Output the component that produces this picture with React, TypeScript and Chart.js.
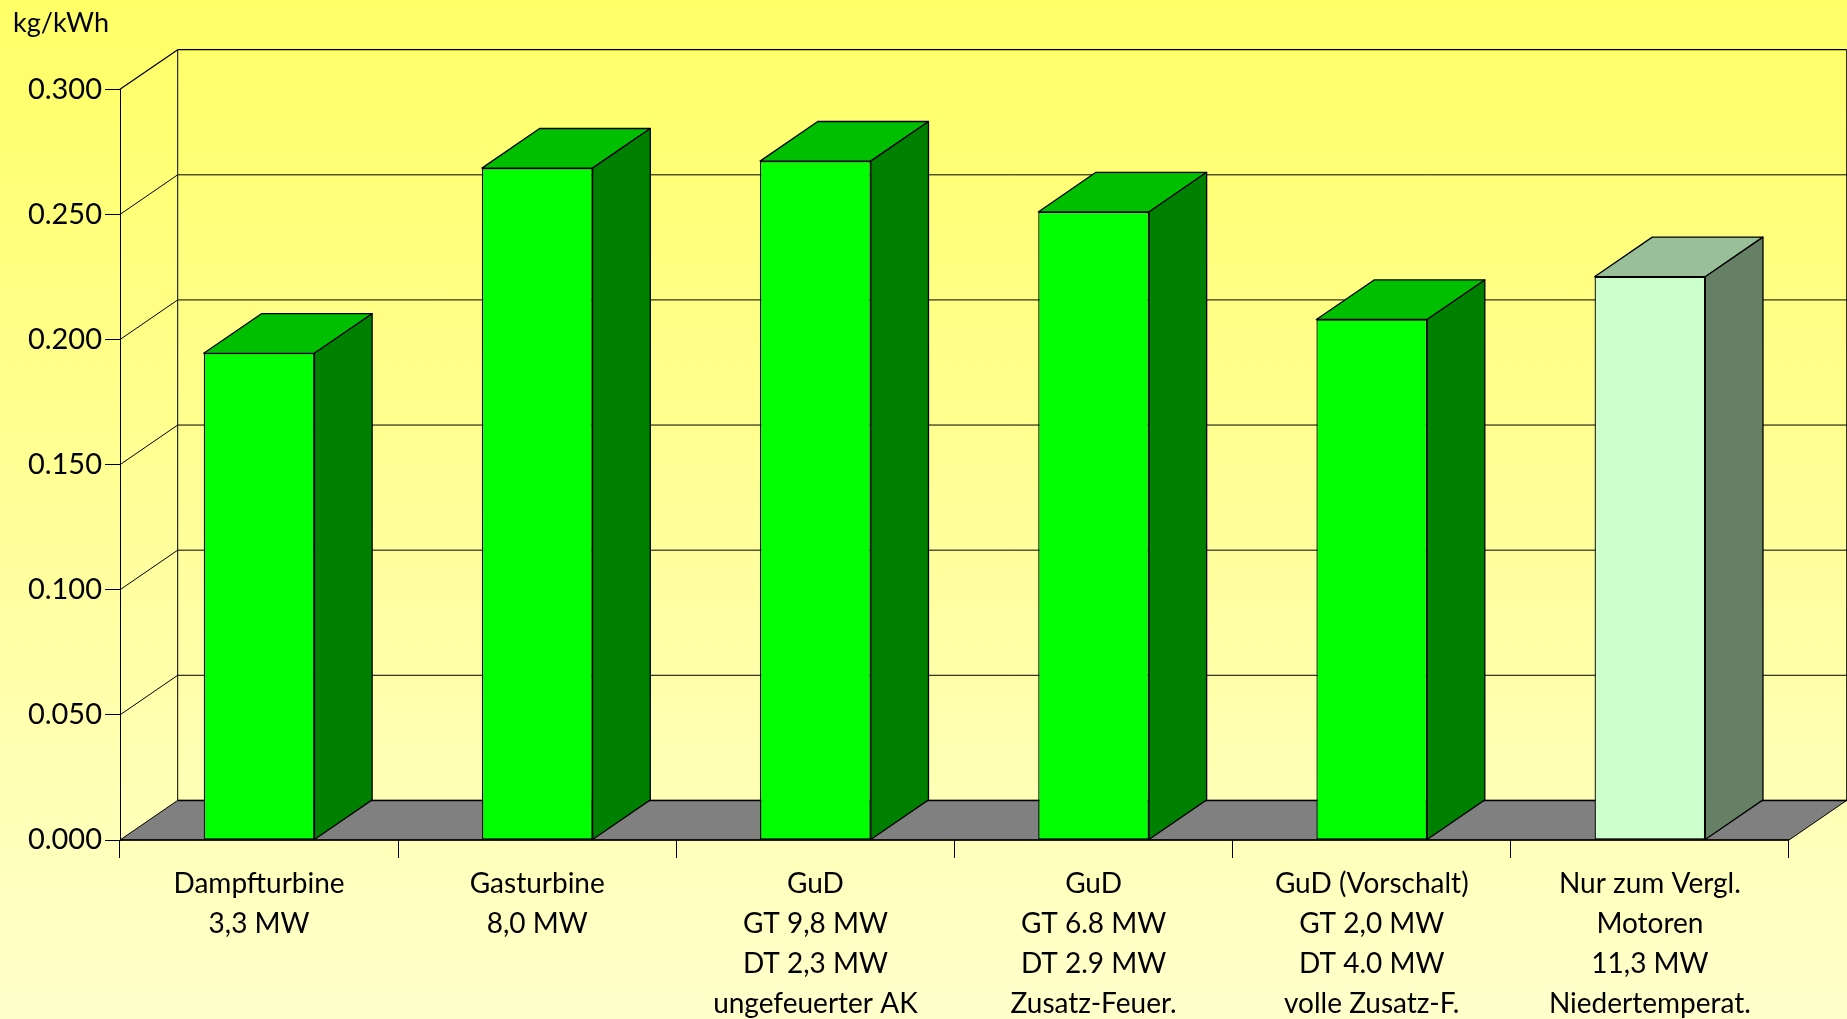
import React, { useEffect, useRef } from "react";
import { Chart, registerables } from "chart.js";

Chart.register(...registerables);

const categories: string[][] = [
  ["Dampfturbine", "3,3 MW"],
  ["Gasturbine", "8,0 MW"],
  ["GuD", "GT 9,8 MW", "DT 2,3 MW", "ungefeuerter AK"],
  ["GuD", "GT 6.8 MW", "DT 2.9 MW", "Zusatz-Feuer."],
  ["GuD (Vorschalt)", "GT 2,0 MW", "DT 4.0 MW", "volle Zusatz-F."],
  ["Nur zum Vergl.", "Motoren", "11,3 MW", "Niedertemperat."],
];
const values: number[] = [0.1945, 0.2685, 0.2713, 0.251, 0.208, 0.2251];
const frontColors: string[] = ["#00FF00", "#00FF00", "#00FF00", "#00FF00", "#00FF00", "#CCFFCC"];
const topColors: string[] = ["#00BF00", "#00BF00", "#00BF00", "#00BF00", "#00BF00", "#99BF99"];
const sideColors: string[] = ["#008000", "#008000", "#008000", "#008000", "#008000", "#668066"];
const unitLabel = "kg/kWh";

const FONT = "Lato";
const DX = 57.7;
const DY = 39.6;

const poly = (ctx: CanvasRenderingContext2D, pts: number[][], fill: string | null, lw = 1.2) => {
  ctx.beginPath();
  pts.forEach((p, i) => (i ? ctx.lineTo(p[0], p[1]) : ctx.moveTo(p[0], p[1])));
  ctx.closePath();
  if (fill) {
    ctx.fillStyle = fill;
    ctx.fill();
  }
  ctx.strokeStyle = "#000";
  ctx.lineWidth = lw;
  ctx.stroke();
};

const line = (ctx: CanvasRenderingContext2D, x1: number, y1: number, x2: number, y2: number, lw = 1) => {
  ctx.beginPath();
  ctx.moveTo(x1, y1);
  ctx.lineTo(x2, y2);
  ctx.strokeStyle = "#000";
  ctx.lineWidth = lw;
  ctx.stroke();
};

const box3d = {
  id: "box3d",
  beforeDraw(chart: any) {
    const { ctx, width, height } = chart;
    const g = ctx.createLinearGradient(0, 0, 0, height);
    g.addColorStop(0, "#FFFF66");
    g.addColorStop(1, "#FFFFCC");
    ctx.save();
    ctx.fillStyle = g;
    ctx.fillRect(0, 0, width, height);
    ctx.fillStyle = "#000";
    ctx.font = `27px ${FONT}`;
    ctx.textAlign = "left";
    ctx.textBaseline = "alphabetic";
    ctx.fillText(unitLabel, 13, 32);
    ctx.restore();
  },
  beforeDatasetsDraw(chart: any) {
    const { ctx, chartArea: a, scales } = chart;
    ctx.save();
    const yScale = scales.y;
    yScale.ticks.forEach((t: any) => {
      const y = yScale.getPixelForValue(t.value);
      if (t.value > 0) {
        line(ctx, a.left, y, a.left + DX, y - DY, t.value >= 0.3 ? 1.3 : 1);
        line(ctx, a.left + DX, y - DY, a.right + DX, y - DY, t.value >= 0.3 ? 1.3 : 1);
      }
    });
    line(ctx, a.left + DX, a.top - DY, a.left + DX, a.bottom - DY, 1);
    line(ctx, a.right + DX, a.top - DY, a.right + DX, a.bottom - DY, 1);
    poly(ctx, [
      [a.left, a.bottom],
      [a.left + DX, a.bottom - DY],
      [a.right + DX, a.bottom - DY],
      [a.right, a.bottom],
    ], "#808080", 1);
    line(ctx, a.left + DX, a.bottom - DY, a.right + DX, a.bottom - DY, 1.5);
    line(ctx, a.left, a.bottom, a.right, a.bottom, 1.5);
    ctx.restore();
  },
  afterDatasetsDraw(chart: any) {
    const { ctx } = chart;
    const meta = chart.getDatasetMeta(0);
    ctx.save();
    ctx.lineJoin = "round";
    meta.data.forEach((bar: any, i: number) => {
      const p = bar.getProps(["x", "y", "base", "width"], true);
      const l = p.x - p.width / 2;
      const r = p.x + p.width / 2;
      poly(ctx, [[l, p.y], [l + DX, p.y - DY], [r + DX, p.y - DY], [r, p.y]], topColors[i], 1.3);
      poly(ctx, [[r, p.y], [r + DX, p.y - DY], [r + DX, p.base - DY], [r, p.base]], sideColors[i], 1.3);
    });
    ctx.restore();
  },
};

export default function App() {
  const ref = useRef<HTMLCanvasElement | null>(null);
  useEffect(() => {
    document.body.style.margin = "0";
    const chart = new Chart(ref.current as HTMLCanvasElement, {
      type: "bar",
      data: {
        labels: categories,
        datasets: [
          {
            data: values,
            backgroundColor: frontColors,
            borderColor: "#000",
            borderWidth: 1.3,
            borderSkipped: false,
            barPercentage: 0.398,
            categoryPercentage: 1,
          },
        ],
      },
      options: {
        responsive: false,
        animation: false,
        devicePixelRatio: 1,
        layout: { padding: { left: 0, top: 89.3, right: 58, bottom: 0 } },
        plugins: { legend: { display: false }, tooltip: { enabled: false }, title: { display: false } },
        scales: {
          x: {
            afterFit: (s: any) => {
              s.height = 179;
            },
            grid: { display: true, drawOnChartArea: false, drawTicks: true, tickLength: 18, color: "#000", lineWidth: 1 },
            border: { display: false },
            ticks: {
              autoSkip: false,
              maxRotation: 0,
              minRotation: 0,
              padding: 6,
              color: "#000",
              font: { family: FONT, size: 28, lineHeight: 40 / 28 },
            },
          },
          y: {
            min: 0,
            max: 0.3,
            afterFit: (s: any) => {
              s.width = 120;
            },
            grid: { display: true, drawOnChartArea: false, drawTicks: true, tickLength: 15, color: "#000", lineWidth: 1 },
            border: { display: true, color: "#000", width: 1 },
            ticks: {
              stepSize: 0.05,
              padding: 3,
              color: "#000",
              font: { family: FONT, size: 29 },
              callback: (v: any) => Number(v).toFixed(3),
            },
          },
        },
      },
      plugins: [box3d],
    } as any);
    return () => chart.destroy();
  }, []);
  return <canvas ref={ref} width={1847} height={1019} style={{ display: "block" }} />;
}
